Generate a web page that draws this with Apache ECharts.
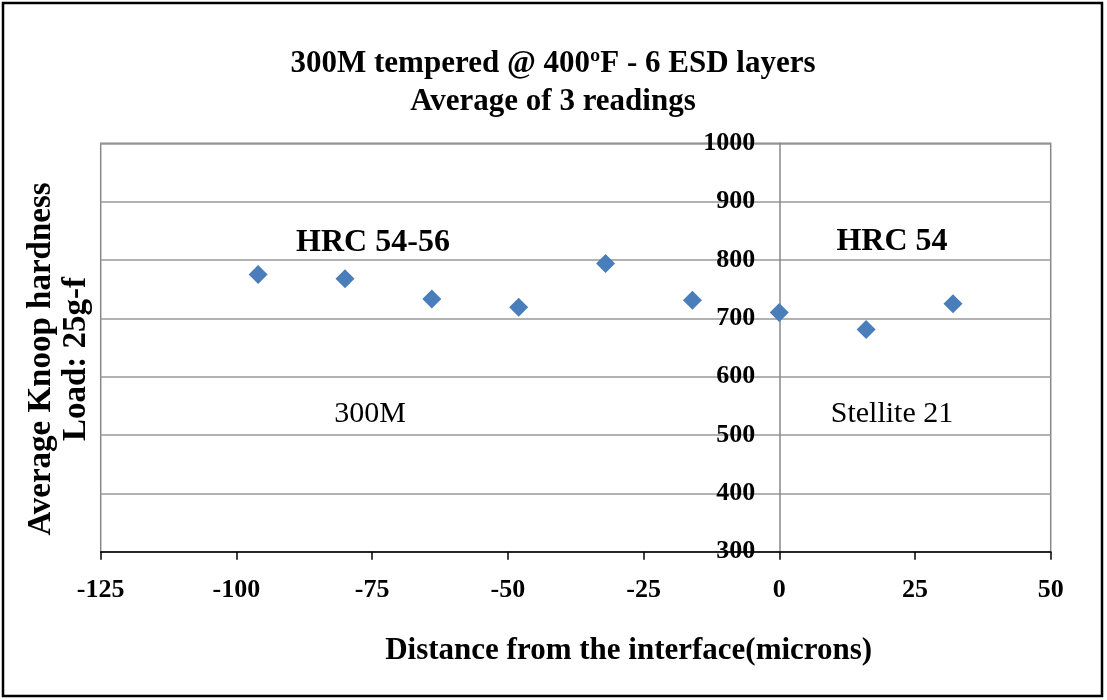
<!DOCTYPE html>
<html>
<head>
<meta charset="utf-8">
<script src="https://cdn.jsdelivr.net/npm/echarts@6/dist/echarts.min.js"></script>
<style>
html,body{margin:0;padding:0;background:#fff;}
#chart{width:1107px;height:700px;}
</style>
</head>
<body>
<div id="chart"></div>
<script>
var distances = [-96, -80, -64, -48, -32, -16, 0, 16, 32];
var hardness = [775, 768, 733, 719, 794, 731, 710, 681, 725];
var xTicks = [-125, -100, -75, -50, -25, 0, 25, 50];
var yTicks = [300, 400, 500, 600, 700, 800, 900, 1000];

var serif = "'Liberation Serif', 'Times New Roman', serif";
var points = distances.map(function (d, i) { return [d, hardness[i]]; });

var gridLeft = 100.7, gridRight = 56.3;
var plotW = 1107 - gridLeft - gridRight;
var xMin = xTicks[0], xMax = xTicks[xTicks.length - 1];
// y-axis line sits at x = 0 of the value axis
var yAxisOffset = -plotW * (0 - xMin) / (xMax - xMin);

var chart = echarts.init(document.getElementById('chart'));
chart.setOption({
  animation: false,
  backgroundColor: '#fff',
  title: {
    text: '300M tempered @ 400ºF - 6 ESD layers\nAverage of 3 readings',
    left: 548, top: 40, textAlign: 'center',
    textStyle: { fontFamily: serif, fontWeight: 'bold', fontSize: 31, lineHeight: 38, color: '#000' }
  },
  grid: {
    left: gridLeft, top: 143.3, right: gridRight, bottom: 148.3,
    show: true, borderColor: '#888', borderWidth: 1.5
  },
  xAxis: {
    type: 'value', min: xMin, max: xMax, interval: 25,
    name: 'Distance from the interface(microns)',
    nameLocation: 'middle', nameGap: 84,
    nameTextStyle: { fontFamily: serif, fontWeight: 'bold', fontSize: 31, color: '#000', padding: [0, 0, 0, 106] },
    axisLine: { show: true, onZero: false, lineStyle: { color: '#000', width: 1.5 } },
    axisTick: { show: true, inside: false, length: 8, lineStyle: { color: '#000', width: 1.5 } },
    axisLabel: { fontFamily: serif, fontWeight: 'bold', fontSize: 26, color: '#000', margin: 26 },
    splitLine: { show: false }
  },
  yAxis: {
    type: 'value', min: yTicks[0], max: yTicks[yTicks.length - 1], interval: 100,
    offset: yAxisOffset,
    axisLine: { show: true, onZero: false, lineStyle: { color: '#888', width: 1.5 } },
    axisTick: { show: false },
    axisLabel: { fontFamily: serif, fontWeight: 'bold', fontSize: 26, color: '#000', margin: 24,
      formatter: function (v) { return String(v); } },
    splitLine: { show: true, lineStyle: { color: '#999', width: 1.5 } }
  },
  series: [{
    type: 'scatter',
    data: points,
    symbol: 'diamond',
    symbolSize: 19,
    itemStyle: { color: '#4a7ebb', opacity: 1 },
    z: 5
  }],
  graphic: [
    { type: 'rect', shape: { x: 3, y: 3, width: 1099, height: 693 }, style: { fill: 'none', stroke: '#000', lineWidth: 2.5 }, silent: true },
    { type: 'text', x: 41, y: 359, rotation: Math.PI / 2,
      style: { text: 'Average Knoop hardness', fontFamily: serif, fontWeight: 'bold', fontSize: 33, fill: '#000', textAlign: 'center', textVerticalAlign: 'middle' } },
    { type: 'text', x: 76, y: 359, rotation: Math.PI / 2,
      style: { text: 'Load: 25g-f', fontFamily: serif, fontWeight: 'bold', fontSize: 33, fill: '#000', textAlign: 'center', textVerticalAlign: 'middle' } },
    { type: 'text', x: 373, y: 243,
      style: { text: 'HRC 54-56', fontFamily: serif, fontWeight: 'bold', fontSize: 32, fill: '#000', textAlign: 'center', textVerticalAlign: 'middle' } },
    { type: 'text', x: 892, y: 242,
      style: { text: 'HRC 54', fontFamily: serif, fontWeight: 'bold', fontSize: 32, fill: '#000', textAlign: 'center', textVerticalAlign: 'middle' } },
    { type: 'text', x: 370, y: 414,
      style: { text: '300M', fontFamily: serif, fontSize: 30, fill: '#000', textAlign: 'center', textVerticalAlign: 'middle' } },
    { type: 'text', x: 892, y: 414,
      style: { text: 'Stellite 21', fontFamily: serif, fontSize: 30, fill: '#000', textAlign: 'center', textVerticalAlign: 'middle' } }
  ]
});
</script>
</body>
</html>
